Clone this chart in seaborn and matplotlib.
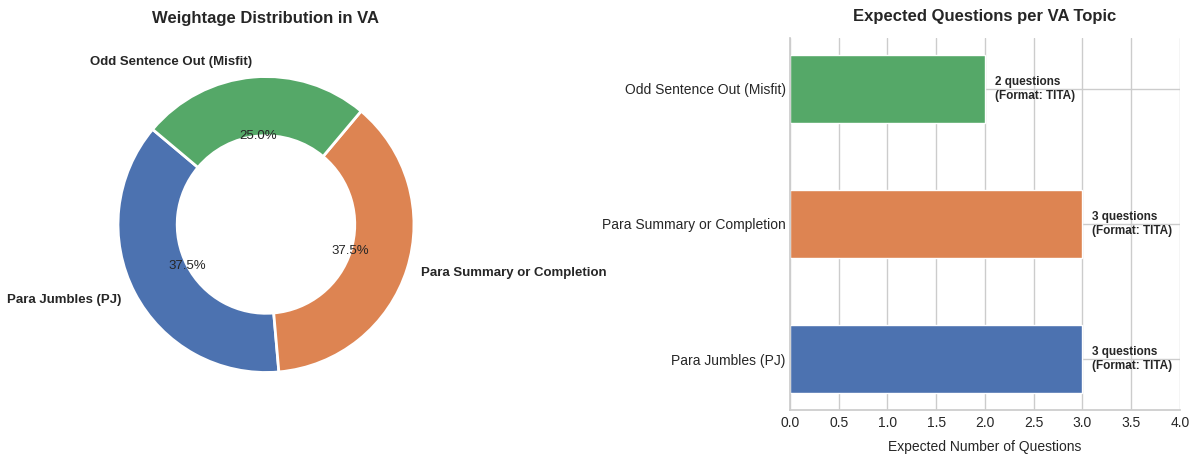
import matplotlib
matplotlib.use("Agg")
import matplotlib.pyplot as plt
import seaborn as sns
import pandas as pd

# VA section data
topics = ["Para Jumbles (PJ)", "Para Summary or Completion", "Odd Sentence Out (Misfit)"]
weightage = [37.5, 37.5, 25.0]
questions = [3, 3, 2]
formats = ["TITA", "TITA", "TITA"]
xticks = [0.0, 0.5, 1.0, 1.5, 2.0, 2.5, 3.0, 3.5, 4.0]

sns.set_theme(style="whitegrid")
plt.rcParams["font.family"] = ["Liberation Sans", "DejaVu Sans"]

colors = sns.color_palette("deep")[:3]
palette = dict(zip(topics, colors))

fig = plt.figure(figsize=(12, 4.61), dpi=100)
ax1 = fig.add_axes([0.0675, 0.1117, 0.3083, 0.8026])
ax2 = fig.add_axes([0.6583, 0.1106, 0.325, 0.807])

# Donut chart
wedges, texts, autotexts = ax1.pie(
    weightage, labels=topics, colors=colors, autopct="%1.1f%%",
    startangle=140, wedgeprops=dict(width=0.4, edgecolor="white", linewidth=2),
    textprops=dict(fontsize=9.5),
)
for t in texts:
    t.set_fontweight("bold")
    t.set_fontsize(9.5)
ax1.set_title("Weightage Distribution in VA", fontsize=12, fontweight="bold", pad=12)

# Horizontal bars, top to bottom
df = pd.DataFrame({"topic": topics, "questions": questions, "format": formats})
order = topics[::-1]
sns.barplot(data=df, y="topic", x="questions", hue="topic", order=order,
            palette=palette, width=0.5, saturation=1, legend=False, ax=ax2)
ax2.set_ylim(2.375, -0.375)
ax2.set_xlim(0, 4)
ax2.set_xticks(xticks)
ax2.grid(True, axis="both")
ax2.set_axisbelow(True)
ax2.tick_params(length=0, labelsize=10)
ax2.tick_params(axis="x", pad=4.5)
ax2.tick_params(axis="y", pad=3)
ax2.set_title("Expected Questions per VA Topic", fontsize=12, fontweight="bold", pad=12)
ax2.set_xlabel("Expected Number of Questions", fontsize=10, labelpad=7)
ax2.set_ylabel("")
for i, name in enumerate(order):
    row = df[df["topic"] == name].iloc[0]
    ax2.text(row["questions"] + 0.1, i,
             f"{row['questions']} questions\n(Format: {row['format']})",
             va="center", ha="left", fontsize=8.5, fontweight="bold")
sns.despine(ax=ax2, top=True, right=True)

plt.savefig("out.png")
